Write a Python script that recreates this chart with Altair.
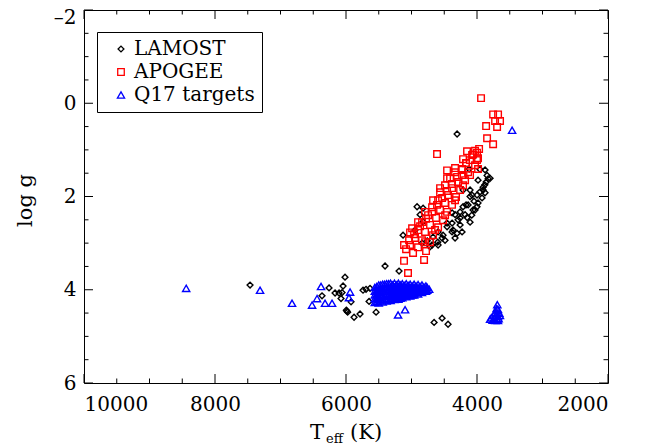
import altair as alt
import pandas as pd

# ---------------- data ----------------
lamost_teff = [4304, 3846, 3800, 3861, 3907, 3953, 3877, 4000, 3923, 4045, 4106, 4136, 3984, 4213,
               4060, 4258, 4334, 4182, 4289, 4380, 4258, 4365, 4457, 4518, 4594, 4533, 4671, 4686,
               4839, 4915, 4823, 4869, 4823, 5129, 4946, 4121, 3953, 4106, 4213, 3907, 4000, 4380,
               4304, 4457, 4717, 4760, 4600, 4150, 4080, 3880, 3830,
               3984, 3877, 4075, 4167, 4258, 4381, 4488, 4594, 4030, 4106, 4228, 4335,
               7465, 6015, 6259, 6366, 6045, 6167, 6106, 6060, 6076, 5923, 5984, 5995, 5975, 5877,
               5786, 5740, 5694, 5633, 5648, 5541, 5404, 5190, 4655, 4533, 4442]
lamost_logg = [0.66, 1.55, 1.61, 1.69, 1.80, 1.90, 1.92, 1.97, 2.03, 2.10, 2.00, 2.18, 2.14, 2.22,
               2.29, 2.33, 2.39, 2.39, 2.50, 2.57, 2.61, 2.72, 2.65, 2.83, 2.76, 2.89, 2.87, 3.04,
               3.00, 2.22, 2.25, 2.39, 2.54, 2.83, 2.72, 1.41, 1.42, 1.86, 1.86, 1.86, 2.22, 2.35,
               2.79, 2.57, 3.08, 2.95, 2.98, 2.45, 2.40, 1.75, 1.62,
               1.65, 1.43, 1.97, 2.18, 2.46, 2.76, 2.94, 3.04, 2.29, 2.55, 2.76, 2.89,
               3.90, 3.73, 3.96, 4.13, 3.92, 4.07, 4.07, 4.06, 4.19, 4.26, 4.46, 4.44, 4.48, 4.59,
               4.52, 4.01, 3.99, 3.97, 4.25, 4.48, 3.49, 3.60, 4.70, 4.61, 4.74]

apogee_teff = [3938, 3754, 3678, 3724, 3648, 3861, 3693, 3846, 3754, 4610, 3968, 4030, 4060, 4000,
               4152, 4457, 4213, 4228, 4000, 3984, 4106, 4030, 4075, 4167, 3984,
               4335, 4228, 4136, 4411, 4289, 4182, 4488, 4381, 4258, 4564, 4442, 4320, 4594, 4488,
               4381, 4686, 4564, 4457, 4747, 4625, 4518, 4839, 4717, 4594, 4900, 4793, 4671, 4991,
               4946, 4839, 4717, 5022, 4900, 5083, 4778, 4976,
               5037, 4961, 4869, 4778, 4686, 4610, 4533, 4457, 4381, 4304, 4228, 4167,
               4793, 4640, 4487, 4335, 4213, 4106,
               5114, 5022, 4900, 4793, 4671, 4564, 4457, 4335,
               5114, 4808, 5053]
apogee_logg = [-0.11, 0.24, 0.24, 0.38, 0.38, 0.49, 0.51, 0.75, 0.88, 1.09, 0.98, 1.02, 1.10, 1.06,
               1.03, 1.44, 1.20, 1.41, 1.22, 1.41, 1.22, 1.33, 1.11, 1.28, 1.18,
               1.48, 1.54, 1.48, 1.61, 1.69, 1.65, 1.76, 1.82, 1.86, 1.91, 1.97, 2.01, 2.08, 2.14,
               2.18, 2.23, 2.29, 2.33, 2.40, 2.46, 2.51, 2.55, 2.61, 2.66, 2.72, 2.76, 2.83, 2.68,
               2.89, 2.94, 2.98, 3.04, 3.09, 3.13, 3.17, 3.21,
               2.94, 2.81, 2.64, 2.48, 2.33, 2.18, 2.03, 1.88, 1.73, 1.58, 1.43, 1.29,
               2.98, 2.72, 2.40, 2.08, 1.76, 1.54,
               3.04, 2.77, 2.55, 2.33, 2.08, 1.82, 1.61, 1.39,
               3.38, 3.36, 3.64]

q17_teff = [8440, 7312, 6824, 6518, 6442, 6381, 6320, 6213, 5938, 5955, 5205, 5098, 3464,
            5560, 5560, 5560, 5560, 5560,
            5530, 5530, 5530, 5530, 5530,
            5500, 5500, 5500, 5500, 5500, 5500,
            5470, 5470, 5470, 5470, 5470,
            5440, 5440, 5440, 5440, 5440, 5440,
            5410, 5410, 5410, 5410, 5410,
            5380, 5380, 5380, 5380, 5380, 5380,
            5350, 5350, 5350, 5350, 5350,
            5320, 5320, 5320, 5320, 5320, 5320,
            5290, 5290, 5290, 5290, 5290,
            5260, 5260, 5260, 5260, 5260, 5260,
            5230, 5230, 5230, 5230, 5230,
            5200, 5200, 5200, 5200, 5200, 5200,
            5170, 5170, 5170, 5170, 5170,
            5140, 5140, 5140, 5140, 5140,
            5110, 5110, 5110, 5110,
            5080, 5080, 5080, 5080, 5080,
            5050, 5050, 5050, 5050,
            5020, 5020, 5020, 5020, 5020,
            4990, 4990, 4990, 4990,
            4960, 4960, 4960, 4960, 4960,
            4930, 4930, 4930,
            4900, 4900, 4900, 4900,
            4870, 4870, 4870,
            4840, 4840, 4840, 4840,
            4810, 4810,
            4780, 4780, 4780,
            4760, 4760,
            4730,
            3690, 3700, 3680, 3720, 3690, 3660, 3750, 3710, 3680, 3650, 3780, 3740, 3700, 3670,
            3800, 3760, 3720, 3680]
q17_logg = [3.97, 4.01, 4.29, 4.33, 4.19, 3.93, 4.29, 4.29, 4.05, 4.17, 4.54, 4.43, 0.58,
            3.95, 4.03, 4.11, 4.19, 4.27,
            3.93, 4.01, 4.09, 4.17, 4.25,
            3.90, 3.98, 4.06, 4.14, 4.22, 4.28,
            3.90, 3.98, 4.06, 4.14, 4.22,
            3.88, 3.96, 4.04, 4.12, 4.20, 4.26,
            3.88, 3.96, 4.04, 4.12, 4.20,
            3.87, 3.95, 4.03, 4.11, 4.19, 4.24,
            3.87, 3.95, 4.03, 4.11, 4.19,
            3.86, 3.94, 4.02, 4.10, 4.18, 4.23,
            3.90, 3.98, 4.06, 4.14, 4.20,
            3.86, 3.94, 4.02, 4.10, 4.17, 4.21,
            3.90, 3.98, 4.06, 4.14, 4.19,
            3.86, 3.93, 4.01, 4.09, 4.16, 4.20,
            3.90, 3.98, 4.06, 4.13, 4.18,
            3.87, 3.94, 4.02, 4.10, 4.17,
            3.91, 3.98, 4.06, 4.13,
            3.87, 3.94, 4.02, 4.09, 4.15,
            3.91, 3.98, 4.06, 4.12,
            3.88, 3.95, 4.02, 4.09, 4.13,
            3.92, 3.99, 4.06, 4.11,
            3.88, 3.95, 4.02, 4.08, 4.11,
            3.92, 3.99, 4.06,
            3.89, 3.96, 4.03, 4.09,
            3.93, 4.00, 4.05,
            3.90, 3.97, 4.03, 4.06,
            3.94, 4.01,
            3.92, 3.98, 4.03,
            3.95, 4.01,
            3.99,
            4.32, 4.40, 4.42, 4.48, 4.50, 4.50, 4.55, 4.56, 4.57, 4.55, 4.60, 4.62, 4.63, 4.62,
            4.63, 4.65, 4.66, 4.66]

series_names = ["LAMOST", "APOGEE", "Q17 targets"]
series_colors = ["#000000", "#ff0000", "#0000ff"]
series_shapes = ["diamond", "square", "triangle-up"]
series_sizes = [34, 52, 46]

x_major = [10000, 8000, 6000, 4000, 2000]
x_minor = [9500, 9000, 8500, 7500, 7000, 6500, 5500, 5000, 4500, 3500, 3000, 2500]
y_major = [-2, 0, 2, 4, 6]
y_minor = [-1.5, -1, -0.5, 0.5, 1, 1.5, 2.5, 3, 3.5, 4.5, 5, 5.5]

df = pd.DataFrame({
    "teff": lamost_teff + apogee_teff + q17_teff,
    "logg": lamost_logg + apogee_logg + q17_logg,
    "series": ["LAMOST"] * len(lamost_teff) + ["APOGEE"] * len(apogee_teff)
              + ["Q17 targets"] * len(q17_teff),
})

W, H = 524, 373
FONT = "DejaVu Serif"
MAJ, MIN = 9, 4.5

xscale = alt.Scale(domain=[2000, 10000], reverse=True, nice=False, zero=False)
yscale = alt.Scale(domain=[-2, 6], reverse=True, nice=False, zero=False)

x_label_axis = alt.Axis(orient="bottom", values=x_major, ticks=False, tickSize=0, domain=False,
                        grid=False, labelFont=FONT, labelFontSize=20, labelColor="black",
                        labelPadding=11, format="d", title=None)
y_label_axis = alt.Axis(orient="left", values=y_major, ticks=False, tickSize=0, domain=False,
                        grid=False, labelFont=FONT, labelFontSize=20, labelColor="black",
                        labelPadding=8,
                        labelOffset={"condition": {"test": "datum.value === -2", "value": 7},
                                     "value": 0},
                        labelExpr="datum.value < 0 ? '\u2013' + abs(datum.value) : datum.label",
                        title="log g", titleFont=FONT, titleFontSize=21,
                        titleFontWeight="normal", titleColor="black", titleAngle=270,
                        titleX=-59, titleY=190, titleBaseline="middle", titleAlign="center")

legend = alt.Legend(orient="none", legendX=13, legendY=22, title=None, strokeColor="black",
                    fillColor="white", padding=7, labelFont=FONT, labelFontSize=20,
                    labelColor="black", symbolSize=30, symbolStrokeWidth=1.3,
                    symbolOffset=7, labelOffset=3, rowPadding=3)

points = alt.Chart(df).mark_point(filled=False, strokeWidth=1.4, opacity=1).encode(
    x=alt.X("teff:Q", scale=xscale, axis=x_label_axis),
    y=alt.Y("logg:Q", scale=yscale, axis=y_label_axis),
    color=alt.Color("series:N", scale=alt.Scale(domain=series_names, range=series_colors),
                    legend=legend),
    shape=alt.Shape("series:N", scale=alt.Scale(domain=series_names, range=series_shapes),
                    legend=legend),
    size=alt.Size("series:N", scale=alt.Scale(domain=series_names, range=series_sizes),
                  legend=None),
)


def x_ticks(values, length):
    base = alt.Chart(pd.DataFrame({"v": values})).mark_rule(color="black", strokeWidth=1)
    enc = alt.X("v:Q", scale=xscale, axis=None)
    return [base.encode(x=enc, y=alt.value(H), y2=alt.value(H - length)),
            base.encode(x=enc, y=alt.value(0), y2=alt.value(length))]


def y_ticks(values, length):
    base = alt.Chart(pd.DataFrame({"v": values})).mark_rule(color="black", strokeWidth=1)
    enc = alt.Y("v:Q", scale=yscale, axis=None)
    return [base.encode(y=enc, x=alt.value(0), x2=alt.value(length)),
            base.encode(y=enc, x=alt.value(W), x2=alt.value(W - length))]


tick_layers = x_ticks(x_major, MAJ) + x_ticks(x_minor, MIN) + y_ticks(y_major, MAJ) + y_ticks(y_minor, MIN)

t_main = alt.Chart(pd.DataFrame({"s": ["T"]})).mark_text(
    font=FONT, fontSize=21, align="left", baseline="alphabetic", color="black"
).encode(x=alt.value(226), y=alt.value(429), text="s:N")
t_sub = alt.Chart(pd.DataFrame({"s": ["eff"]})).mark_text(
    font=FONT, fontSize=13, align="left", baseline="alphabetic", color="black"
).encode(x=alt.value(242), y=alt.value(433), text="s:N")
t_unit = alt.Chart(pd.DataFrame({"s": ["(K)"]})).mark_text(
    font=FONT, fontSize=21, align="left", baseline="alphabetic", color="black"
).encode(x=alt.value(266), y=alt.value(429), text="s:N")

chart = alt.layer(points, *tick_layers, t_main, t_sub, t_unit).resolve_axis(
    x="independent", y="independent"
).properties(
    width=W, height=H,
    autosize=alt.AutoSizeParams(type="none"),
    padding={"left": 76, "top": 2, "right": 41, "bottom": 62},
).configure_view(stroke="black", strokeWidth=1)

chart.save("out.html", embed_options={"renderer": "svg", "actions": False})
